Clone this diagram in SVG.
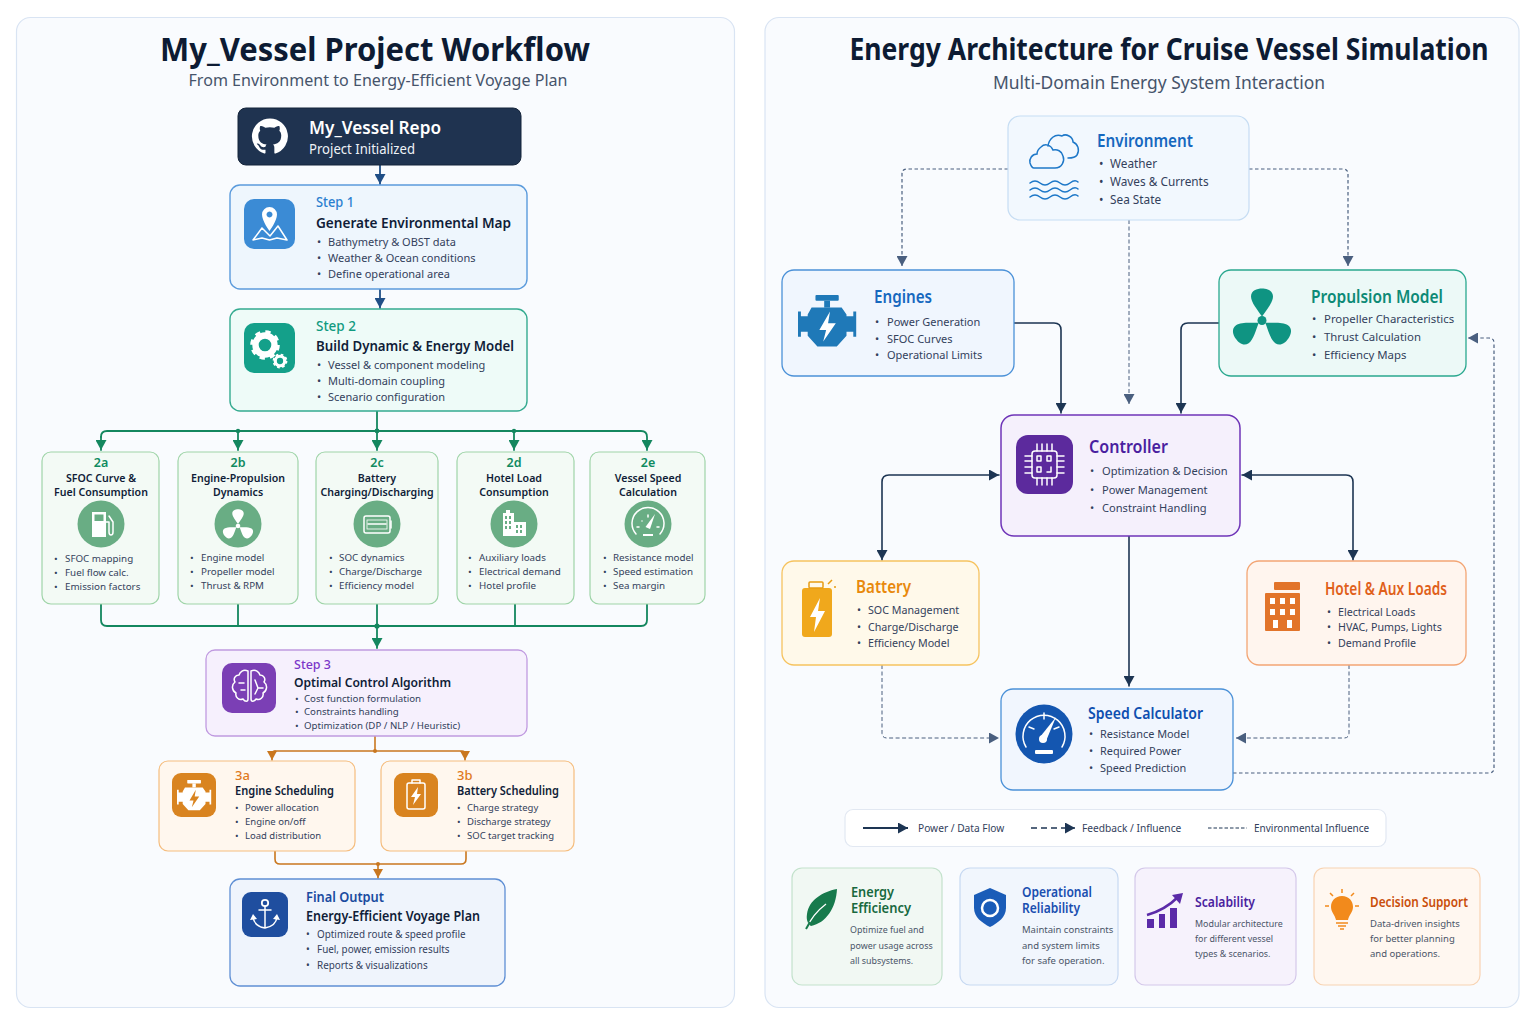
<svg xmlns="http://www.w3.org/2000/svg" xmlns:xlink="http://www.w3.org/1999/xlink" width="1536" height="1024" viewBox="0 0 1536 1024">
<style>
text{font-family:"Noto Sans","Liberation Sans",sans-serif;fill:#33415c}
.panel{fill:#f9fbfe;stroke:#d9e4f3;stroke-width:1.2}
.h1{font-weight:700;fill:#0d1b33}
.sub{fill:#46546b}
.stp{font-size:13.5px;font-weight:500}
.hd{font-size:14.5px;font-weight:600;fill:#101d38}
.li{font-size:11px}
.gc{fill:#f3faf5;stroke:#9fd4a8;stroke-width:1.2}
.gt{font-size:10.6px;font-weight:600;fill:#101d38;text-anchor:middle}
.gn{font-size:12.5px;font-weight:600;fill:#0f8a5f;text-anchor:middle}
.gl{font-size:9.8px}
.gci{fill:#69ad84}
.s3{font-size:9.7px}
.o{fill:#fff7ee;stroke:#f5bd7e;stroke-width:1.2}
.on{font-size:13px;font-weight:500;fill:#e07a1c}
.oh{font-size:12.4px;font-weight:600;fill:#101d38}
.ol{font-size:9.5px}
.fl{font-size:9.9px}
.rt{font-size:17px;font-weight:600}
.c{fill:none;stroke-linecap:round}
.navy{stroke:#1f4e86;stroke-width:1.8}
.grn{stroke:#14875f;stroke-width:1.8}
.org{stroke:#c9771f;stroke-width:1.6}
.dk{stroke:#1d3553;stroke-width:1.6}
.ds{stroke:#4a5f7f;stroke-width:1.2;stroke-dasharray:3.5 2.5;stroke-linecap:butt}
.thin{stroke:#4a5f7f;stroke-width:1;stroke-dasharray:4 2.5;stroke-linecap:butt}
.lg{font-size:10.2px}
.bh{font-size:13.4px;font-weight:600}
.bb{font-size:9.5px;fill:#4a5568}
.bn{font-size:8.9px;fill:#4a5568}
.w{stroke:#fff;fill:none;stroke-width:1.5;stroke-linecap:round;stroke-linejoin:round}
</style>
<defs>
<marker id="mNavy" markerUnits="userSpaceOnUse" markerWidth="11" markerHeight="11" refX="10" refY="5.5" orient="auto"><path d="M0 0L10 5.5L0 11z" fill="#1f4e86"/></marker>
<marker id="mGrn" markerUnits="userSpaceOnUse" markerWidth="11" markerHeight="11" refX="10" refY="5.5" orient="auto"><path d="M0 0L10 5.5L0 11z" fill="#14875f"/></marker>
<marker id="mOrg" markerUnits="userSpaceOnUse" markerWidth="10" markerHeight="10" refX="9" refY="5" orient="auto"><path d="M0 0L9 5L0 10z" fill="#c9771f"/></marker>
<marker id="mDk" markerUnits="userSpaceOnUse" markerWidth="11" markerHeight="11" refX="10" refY="5.5" orient="auto-start-reverse"><path d="M0 0L10 5.5L0 11z" fill="#1d3553"/></marker>
<marker id="mGr" markerUnits="userSpaceOnUse" markerWidth="11" markerHeight="11" refX="10" refY="5.5" orient="auto"><path d="M0 0L10 5.5L0 11z" fill="#4a5f7f"/></marker>
<g id="prop">
<path id="petal" d="M0 -4C-4 -10 -11 -18 -11 -24C-11 -30 -5 -32 0 -32C5 -32 11 -30 11 -24C11 -18 4 -10 0 -4z"/>
<use xlink:href="#petal" href="#petal" transform="rotate(125)"/>
<use xlink:href="#petal" href="#petal" transform="rotate(235)"/>
<circle r="4.5"/>
</g>
<g id="engine">
<rect x="18" y="0" width="24" height="6" rx="1"/><rect x="27" y="6" width="6" height="7"/>
<path d="M14 13H45L50 20V22H57V17H60V43H57V38H50V42L40 53H20L10 42V38H3V43H0V17H3V22H10V20Z"/>
<path d="M33 17L22 36H29L26 48L39 29H31Z" style="fill:var(--bolt)"/>
</g>
<g id="gear">
<circle r="9.5" fill="none" stroke="#fff" stroke-width="6.4"/>
<circle r="13" fill="none" stroke="#fff" stroke-width="3.6" stroke-dasharray="5.2 5"/>
</g>
</defs>

<rect width="1536" height="1024" fill="#fff"/>
<rect class="panel" x="16.5" y="17.5" width="718" height="990" rx="14"/>
<rect class="panel" x="765" y="17.5" width="754" height="990" rx="14"/>

<g id="left-title">
<text class="h1" x="375" y="61" text-anchor="middle" font-size="33" textLength="430" lengthAdjust="spacingAndGlyphs">My_Vessel Project Workflow</text>
<text class="sub" x="378" y="86" text-anchor="middle" font-size="16.6" textLength="379" lengthAdjust="spacingAndGlyphs">From Environment to Energy-Efficient Voyage Plan</text>
</g>

<g id="connectors">
<path class="c navy" d="M380 165V184" marker-end="url(#mNavy)"/>
<path class="c navy" d="M380 289V308" marker-end="url(#mNavy)"/>
<path class="c grn" d="M377 411V450" marker-end="url(#mGrn)"/>
<path class="c grn" d="M101 437Q101 431 107 431H641Q647 431 647 437V450" marker-end="url(#mGrn)"/>
<path class="c grn" d="M101 437V450" marker-end="url(#mGrn)"/>
<path class="c grn" d="M238 431V450" marker-end="url(#mGrn)"/>
<path class="c grn" d="M514 431V450" marker-end="url(#mGrn)"/>
<circle cx="377" cy="431" r="2.4" fill="#14875f"/><circle cx="514" cy="431" r="2.2" fill="#14875f"/><circle cx="238" cy="431" r="2.2" fill="#14875f"/>
<path class="c grn" d="M101 604V620Q101 626 107 626H641Q647 626 647 620V604"/>
<path class="c grn" d="M238 604V626M515 604V626"/>
<path class="c grn" d="M377 604V648" marker-end="url(#mGrn)"/>
<circle cx="377" cy="626" r="2.6" fill="#14875f"/>
<path class="c org" d="M375 736V751"/>
<path class="c org" d="M275 751H462Q465 751 465 754V760" marker-end="url(#mOrg)"/>
<path class="c org" d="M275 751Q272 751 272 754V760" marker-end="url(#mOrg)"/>
<circle cx="375" cy="751" r="2" fill="#c9771f"/>
<path class="c org" d="M275 851V859Q275 864 280 864H461Q466 864 466 859V851"/>
<path class="c org" d="M378 864V878" marker-end="url(#mOrg)"/>
<circle cx="378" cy="864" r="2" fill="#c9771f"/>

<path class="c ds" d="M1008 169H907Q902 169 902 174V266" marker-end="url(#mGr)"/>
<path class="c ds" d="M1249 169H1343Q1348 169 1348 174V266" marker-end="url(#mGr)"/>
<path class="c thin" d="M1129 220V404" marker-end="url(#mGr)"/>
<path class="c dk" d="M1014 323H1054Q1061 323 1061 330V413" marker-end="url(#mDk)"/>
<path class="c dk" d="M1219 323H1188Q1181 323 1181 330V413" marker-end="url(#mDk)"/>
<path class="c dk" d="M999 475H889Q882 475 882 482V560" marker-start="url(#mDk)" marker-end="url(#mDk)"/>
<path class="c dk" d="M1242 475H1346Q1353 475 1353 482V560" marker-start="url(#mDk)" marker-end="url(#mDk)"/>
<path class="c dk" d="M1129 536V686" marker-end="url(#mDk)"/>
<path class="c thin" d="M882 665V733Q882 738 887 738H999" marker-end="url(#mGr)"/>
<path class="c thin" d="M1349 665V733Q1349 738 1344 738H1236" marker-end="url(#mGr)"/>
<path class="c ds" d="M1233 773H1489Q1494 773 1494 768V343Q1494 338 1489 338H1468" marker-end="url(#mGr)"/>
</g>

<g id="repo">
<rect x="238" y="108" width="283" height="57" rx="8" fill="#1f3350" stroke="#15243a"/>
<path transform="translate(252 118) scale(1.5)" fill="#fff" d="M12 .3a12 12 0 0 0-3.8 23.4c.6.1.8-.3.8-.6v-2c-3.3.7-4-1.6-4-1.6-.6-1.4-1.4-1.8-1.4-1.8-1-.7.1-.7.1-.7 1.2.1 1.8 1.2 1.8 1.2 1 1.8 2.8 1.3 3.5 1 0-.8.4-1.3.7-1.6-2.7-.3-5.5-1.3-5.5-6 0-1.2.5-2.3 1.3-3.1-.2-.4-.6-1.6 0-3.2 0 0 1-.3 3.4 1.2a11.5 11.5 0 0 1 6 0c2.3-1.5 3.3-1.2 3.3-1.2.6 1.6.2 2.8 0 3.2.9.8 1.3 1.9 1.3 3.2 0 4.6-2.8 5.6-5.5 5.9.5.4.9 1 .9 2.2v3.3c0 .3.1.7.8.6A12 12 0 0 0 12 .3"/>
<text x="309" y="134" font-size="17.6" font-weight="600" style="fill:#fff" textLength="132" lengthAdjust="spacingAndGlyphs">My_Vessel Repo</text>
<text x="309" y="154" font-size="14" style="fill:#eef2f7" textLength="106" lengthAdjust="spacingAndGlyphs">Project Initialized</text>
</g>

<g id="step1">
<rect x="230" y="185" width="297" height="104" rx="10" fill="#eef6fd" stroke="#5b9bdc" stroke-width="1.4"/>
<rect x="244" y="199" width="51" height="50" rx="10" fill="#3b8bd5"/>
<path fill="#fff" fill-rule="evenodd" d="M269.5 207a7.5 7.5 0 0 1 7.5 7.5C277 221 269.5 231 269.5 231S262 221 262 214.5A7.5 7.5 0 0 1 269.5 207zM269.5 211.5a3 3 0 1 0 .01 0z"/>
<path class="w" d="M262 228L253 240L262 238L269.5 240L277 238L287 240L278 226L270 236L262 228"/>
<text class="stp" x="316" y="207" style="fill:#2a7fd0" textLength="38" lengthAdjust="spacingAndGlyphs">Step 1</text>
<text class="hd" x="316" y="228" textLength="195" lengthAdjust="spacingAndGlyphs">Generate Environmental Map</text>
<text class="li"><tspan x="317" y="246">•</tspan><tspan x="328" y="246">Bathymetry &amp; OBST data</tspan></text>
<text class="li"><tspan x="317" y="262">•</tspan><tspan x="328" y="262">Weather &amp; Ocean conditions</tspan></text>
<text class="li"><tspan x="317" y="278">•</tspan><tspan x="328" y="278">Define operational area</tspan></text>
</g>

<g id="step2">
<rect x="230" y="309" width="297" height="102" rx="10" fill="#eefbf8" stroke="#35ab90" stroke-width="1.4"/>
<rect x="244" y="323" width="51" height="50" rx="10" fill="#14a08a"/>
<use xlink:href="#gear" href="#gear" transform="translate(265 345)"/>
<use xlink:href="#gear" href="#gear" transform="translate(280 361) scale(.5)"/>
<text class="stp" x="316" y="331" style="fill:#109a80" textLength="40" lengthAdjust="spacingAndGlyphs">Step 2</text>
<text class="hd" x="316" y="351" textLength="198" lengthAdjust="spacingAndGlyphs">Build Dynamic &amp; Energy Model</text>
<text class="li"><tspan x="317" y="369">•</tspan><tspan x="328" y="369">Vessel &amp; component modeling</tspan></text>
<text class="li"><tspan x="317" y="385">•</tspan><tspan x="328" y="385">Multi-domain coupling</tspan></text>
<text class="li"><tspan x="317" y="401">•</tspan><tspan x="328" y="401">Scenario configuration</tspan></text>
</g>

<g id="step2a">
<rect class="gc" x="42" y="452" width="117" height="152" rx="9"/>
<text class="gn" x="101" y="467">2a</text>
<text class="gt" x="101" y="482">SFOC Curve &amp;</text>
<text class="gt" x="101" y="496">Fuel Consumption</text>
<circle class="gci" cx="101" cy="524" r="23.5"/>
<path fill="#fff" fill-rule="evenodd" d="M92 512H106V537H92ZM94.5 514.5V521H103.5V514.5Z"/><path class="w" d="M106 522H109V532Q109 535 111 535Q113 535 113 532V522L109 516"/>
<text class="gl"><tspan x="54" y="562">•</tspan><tspan x="65" y="562">SFOC mapping</tspan></text>
<text class="gl"><tspan x="54" y="576">•</tspan><tspan x="65" y="576">Fuel flow calc.</tspan></text>
<text class="gl"><tspan x="54" y="590">•</tspan><tspan x="65" y="590">Emission factors</tspan></text>
</g>
<g id="step2b">
<rect class="gc" x="178" y="452" width="120" height="152" rx="9"/>
<text class="gn" x="238" y="467">2b</text>
<text class="gt" x="238" y="482">Engine-Propulsion</text>
<text class="gt" x="238" y="496">Dynamics</text>
<circle class="gci" cx="238" cy="524" r="23.5"/>
<use xlink:href="#prop" href="#prop" fill="#fff" transform="translate(238 526) scale(.52)"/>
<text class="gl"><tspan x="190" y="561">•</tspan><tspan x="201" y="561">Engine model</tspan></text>
<text class="gl"><tspan x="190" y="575">•</tspan><tspan x="201" y="575">Propeller model</tspan></text>
<text class="gl"><tspan x="190" y="589">•</tspan><tspan x="201" y="589">Thrust &amp; RPM</tspan></text>
</g>
<g id="step2c">
<rect class="gc" x="316" y="452" width="122" height="152" rx="9"/>
<text class="gn" x="377" y="467">2c</text>
<text class="gt" x="377" y="482">Battery</text>
<text class="gt" x="377" y="496">Charging/Discharging</text>
<circle class="gci" cx="377" cy="524" r="23.5"/>
<rect class="w" x="364" y="516" width="26" height="17" rx="2"/><path class="w" d="M391 521V528M368 524H386"/><rect x="367" y="520" width="20" height="9" fill="none" stroke="#fff" stroke-width=".8"/>
<text class="gl"><tspan x="329" y="561">•</tspan><tspan x="339" y="561">SOC dynamics</tspan></text>
<text class="gl"><tspan x="329" y="575">•</tspan><tspan x="339" y="575">Charge/Discharge</tspan></text>
<text class="gl"><tspan x="329" y="589">•</tspan><tspan x="339" y="589">Efficiency model</tspan></text>
</g>
<g id="step2d">
<rect class="gc" x="457" y="452" width="117" height="152" rx="9"/>
<text class="gn" x="514" y="467">2d</text>
<text class="gt" x="514" y="482">Hotel Load</text>
<text class="gt" x="514" y="496">Consumption</text>
<circle class="gci" cx="514" cy="524" r="23.5"/>
<path fill="#fff" d="M503 536V513H506V510H510V513H514V522H526V536Z"/>
<path fill="#69ad84" d="M505 516h2v3h-2zM509 516h2v3h-2zM505 521h2v3h-2zM509 521h2v3h-2zM505 526h2v3h-2zM509 526h2v3h-2zM516 525h2v3h-2zM520 525h2v3h-2zM516 530h2v3h-2zM520 530h2v3h-2z"/>
<text class="gl"><tspan x="468" y="561">•</tspan><tspan x="479" y="561">Auxiliary loads</tspan></text>
<text class="gl"><tspan x="468" y="575">•</tspan><tspan x="479" y="575">Electrical demand</tspan></text>
<text class="gl"><tspan x="468" y="589">•</tspan><tspan x="479" y="589">Hotel profile</tspan></text>
</g>
<g id="step2e">
<rect class="gc" x="590" y="452" width="115" height="152" rx="9"/>
<text class="gn" x="648" y="467">2e</text>
<text class="gt" x="648" y="482">Vessel Speed</text>
<text class="gt" x="648" y="496">Calculation</text>
<circle class="gci" cx="648" cy="524" r="23.5"/>
<path class="w" stroke-width="1.8" d="M636 534A16 16 0 1 1 660 534"/><path class="w" d="M642 521V521.1M637 527H639M657 527H659M648 515V517"/>
<path fill="#fff" d="M645.5 527L655 514L650 529Z"/><rect x="643" y="534" width="10" height="2" fill="#fff"/>
<text class="gl"><tspan x="603" y="561">•</tspan><tspan x="613" y="561">Resistance model</tspan></text>
<text class="gl"><tspan x="603" y="575">•</tspan><tspan x="613" y="575">Speed estimation</tspan></text>
<text class="gl"><tspan x="603" y="589">•</tspan><tspan x="613" y="589">Sea margin</tspan></text>
</g>

<g id="step3">
<rect x="206" y="650" width="321" height="86" rx="9" fill="#f6f0fd" stroke="#c09ae0" stroke-width="1.3"/>
<rect x="222" y="663" width="54" height="50" rx="10" fill="#7b3fb5"/>
<path class="w" stroke-width="1.3" d="M248 671C243 669 240 672 239 675C235 675 233 679 235 682C231 685 232 691 236 693C235 697 239 701 243 699C245 702 248 702 248 699ZM251 671C256 669 259 672 260 675C264 675 266 679 264 682C268 685 267 691 263 693C264 697 260 701 256 699C254 702 251 702 251 699Z"/>
<path class="w" stroke-width="1" d="M239 683H244M241 690H245M255 680L258 688L255 694M258 688H263"/>
<text class="stp" x="294" y="669" style="fill:#7b36c9;font-size:12.5px">Step 3</text>
<text class="hd" x="294" y="687" style="font-size:13px" textLength="157" lengthAdjust="spacingAndGlyphs">Optimal Control Algorithm</text>
<text class="s3"><tspan x="295" y="702">•</tspan><tspan x="304" y="702">Cost function formulation</tspan></text>
<text class="s3"><tspan x="295" y="715">•</tspan><tspan x="304" y="715">Constraints handling</tspan></text>
<text class="s3"><tspan x="295" y="729">•</tspan><tspan x="304" y="729">Optimization (DP / NLP / Heuristic)</tspan></text>
</g>

<g id="step3a">
<rect class="o" x="159" y="761" width="196" height="90" rx="9"/>
<rect x="172" y="773" width="44" height="44" rx="9" fill="#d98420"/>
<use xlink:href="#engine" href="#engine" fill="#fff" style="--bolt:#d98420" transform="translate(177 780) scale(.57)"/>
<text class="on" x="235" y="780">3a</text>
<text class="oh" x="235" y="795" textLength="99" lengthAdjust="spacingAndGlyphs">Engine Scheduling</text>
<text class="ol"><tspan x="235" y="811">•</tspan><tspan x="245" y="811">Power allocation</tspan></text>
<text class="ol"><tspan x="235" y="825">•</tspan><tspan x="245" y="825">Engine on/off</tspan></text>
<text class="ol"><tspan x="235" y="839">•</tspan><tspan x="245" y="839">Load distribution</tspan></text>
</g>
<g id="step3b">
<rect class="o" x="381" y="761" width="193" height="90" rx="9"/>
<rect x="394" y="773" width="44" height="44" rx="9" fill="#d98420"/>
<rect class="w" x="407" y="783" width="18" height="26" rx="2"/><path class="w" d="M412 783V780H420V783"/><path fill="#fff" d="M418 787L411 797H415L413 805L421 794H417Z"/>
<text class="on" x="457" y="780">3b</text>
<text class="oh" x="457" y="795" textLength="102" lengthAdjust="spacingAndGlyphs">Battery Scheduling</text>
<text class="ol"><tspan x="457" y="811">•</tspan><tspan x="467" y="811">Charge strategy</tspan></text>
<text class="ol"><tspan x="457" y="825">•</tspan><tspan x="467" y="825">Discharge strategy</tspan></text>
<text class="ol"><tspan x="457" y="839">•</tspan><tspan x="467" y="839">SOC target tracking</tspan></text>
</g>

<g id="final">
<rect x="230" y="879" width="275" height="107" rx="10" fill="#eff4fc" stroke="#5f8fd4" stroke-width="1.3"/>
<rect x="242" y="892" width="46" height="45" rx="9" fill="#1f4e9f"/>
<circle cx="265" cy="903" r="3.2" fill="none" stroke="#fff" stroke-width="1.8"/>
<path class="w" stroke-width="2" d="M265 906V928M259 910H271M253 917Q254 926 265 928Q276 926 277 917"/><path fill="#fff" d="M250 920L253 914L257 919ZM280 920L277 914L273 919Z"/>
<text x="306" y="902" font-size="14" font-weight="600" style="fill:#1a4ba0" textLength="78" lengthAdjust="spacingAndGlyphs">Final Output</text>
<text class="hd" x="306" y="921" style="font-size:13.8px" textLength="174" lengthAdjust="spacingAndGlyphs">Energy-Efficient Voyage Plan</text>
<text class="fl"><tspan x="306" y="938">•</tspan><tspan x="317" y="938">Optimized route &amp; speed profile</tspan></text>
<text class="fl"><tspan x="306" y="953">•</tspan><tspan x="317" y="953">Fuel, power, emission results</tspan></text>
<text class="fl"><tspan x="306" y="969">•</tspan><tspan x="317" y="969">Reports &amp; visualizations</tspan></text>
</g>

<g id="right-title">
<text class="h1" transform="translate(1169 60) scale(.885 1)" text-anchor="middle" font-size="30">Energy Architecture for Cruise Vessel Simulation</text>
<text class="sub" x="1159" y="89" text-anchor="middle" font-size="17.8" textLength="332" lengthAdjust="spacingAndGlyphs">Multi-Domain Energy System Interaction</text>
</g>

<g id="environment">
<rect x="1008" y="116" width="241" height="104" rx="12" fill="#f2f8fe" stroke="#c6ddf3" stroke-width="1.2"/>
<g fill="none" stroke="#1e78c8" stroke-width="1.5" stroke-linecap="round">
<path d="M1034 168H1055C1062 168 1065 161 1063 156C1062 151 1057 149 1053 150C1051 145 1045 143 1041 147C1037 150 1037 153 1037 154C1032 154 1029 159 1030 163C1031 166 1033 168 1034 168Z"/>
<path d="M1048 146C1049 139 1055 133 1062 136C1066 133 1073 137 1073 142C1078 144 1080 150 1077 155C1075 158 1071 158 1068 158"/>
<path d="M1030 183Q1035 179 1040 183T1050 183T1060 183T1070 183T1078 182M1030 190Q1035 186 1040 190T1050 190T1060 190T1070 190T1078 189M1030 197Q1035 193 1040 197T1050 197T1060 197T1070 197T1078 196"/>
</g>
<text class="rt" x="1097" y="147" style="fill:#1668bf" textLength="96" lengthAdjust="spacingAndGlyphs">Environment</text>
<g font-size="11.8"><text><tspan x="1099" y="168">•</tspan><tspan x="1110" y="168">Weather</tspan></text>
<text><tspan x="1099" y="186">•</tspan><tspan x="1110" y="186">Waves &amp; Currents</tspan></text>
<text><tspan x="1099" y="204">•</tspan><tspan x="1110" y="204">Sea State</tspan></text></g>
</g>
<g id="engines">
<rect x="782" y="270" width="232" height="106" rx="12" fill="#f0f6fe" stroke="#4b91d8" stroke-width="1.3"/>
<use xlink:href="#engine" href="#engine" fill="#1f79b8" style="--bolt:#fff" transform="translate(798 295) scale(.97)"/>
<text class="rt" x="874" y="303" style="fill:#1668bf" textLength="58" lengthAdjust="spacingAndGlyphs">Engines</text>
<g font-size="11"><text><tspan x="875" y="326">•</tspan><tspan x="887" y="326">Power Generation</tspan></text>
<text><tspan x="875" y="343">•</tspan><tspan x="887" y="343">SFOC Curves</tspan></text>
<text><tspan x="875" y="359">•</tspan><tspan x="887" y="359">Operational Limits</tspan></text></g>
</g>
<g id="propulsion">
<rect x="1219" y="270" width="247" height="106" rx="12" fill="#ecf9f7" stroke="#2aa88f" stroke-width="1.3"/>
<use xlink:href="#prop" href="#prop" fill="#0f9482" transform="translate(1262 320.5)"/>
<text class="rt" x="1311" y="303" style="fill:#0d8a76" textLength="132" lengthAdjust="spacingAndGlyphs">Propulsion Model</text>
<g font-size="11.4"><text><tspan x="1312" y="323">•</tspan><tspan x="1324" y="323">Propeller Characteristics</tspan></text>
<text><tspan x="1312" y="341">•</tspan><tspan x="1324" y="341">Thrust Calculation</tspan></text>
<text><tspan x="1312" y="359">•</tspan><tspan x="1324" y="359">Efficiency Maps</tspan></text></g>
</g>
<g id="controller">
<rect x="1001" y="415" width="239" height="121" rx="13" fill="#f5f0fc" stroke="#6f35b8" stroke-width="1.5"/>
<rect x="1016" y="435" width="57" height="59" rx="12" fill="#5c2a9d"/>
<rect class="w" x="1032" y="451" width="25" height="27" rx="3"/>
<path class="w" d="M1037 444V451M1042 444V451M1047 444V451M1052 444V451M1037 478V485M1042 478V485M1047 478V485M1052 478V485M1025 456H1032M1025 461H1032M1025 467H1032M1025 473H1032M1057 456H1064M1057 461H1064M1057 467H1064M1057 473H1064"/>
<path class="w" d="M1037 456h4v5h-4zM1047 456h4v5h-4zM1037 467h4v5h-4zM1051 467v5h-4"/>
<text class="rt" x="1089" y="453" style="font-size:18px;fill:#4a1fa0" textLength="79" lengthAdjust="spacingAndGlyphs">Controller</text>
<g font-size="11.1"><text><tspan x="1090" y="475">•</tspan><tspan x="1102" y="475">Optimization &amp; Decision</tspan></text>
<text><tspan x="1090" y="494">•</tspan><tspan x="1102" y="494">Power Management</tspan></text>
<text><tspan x="1090" y="512">•</tspan><tspan x="1102" y="512">Constraint Handling</tspan></text></g>
</g>
<g id="battery">
<rect x="782" y="561" width="197" height="104" rx="12" fill="#fff9ea" stroke="#f6c35f" stroke-width="1.3"/>
<rect x="802" y="588" width="30" height="49" rx="3" fill="#f0a81c"/><rect x="809" y="582" width="14" height="6" rx="1" fill="none" stroke="#e89c12" stroke-width="1.5"/>
<path fill="#fff" d="M820 598L810 617H816L814 632L825 611H818Z"/>
<path d="M828 584L832 580M834 587H836" stroke="#e89c12" stroke-width="1.5" fill="none"/>
<text class="rt" x="856" y="593" style="fill:#e8890c" textLength="55" lengthAdjust="spacingAndGlyphs">Battery</text>
<g font-size="10.7"><text><tspan x="857" y="614">•</tspan><tspan x="868" y="614">SOC Management</tspan></text>
<text><tspan x="857" y="631">•</tspan><tspan x="868" y="631">Charge/Discharge</tspan></text>
<text><tspan x="857" y="647">•</tspan><tspan x="868" y="647">Efficiency Model</tspan></text></g>
</g>
<g id="hotel">
<rect x="1247" y="561" width="219" height="104" rx="12" fill="#fff5ee" stroke="#f3a574" stroke-width="1.3"/>
<rect x="1274" y="582" width="26" height="8" rx="1" fill="#e2742a"/><rect x="1265" y="593" width="35" height="38" rx="1" fill="#e2742a"/>
<path fill="#fff" d="M1270 598h5v6h-5zM1280 598h5v6h-5zM1290 598h5v6h-5zM1270 609h5v6h-5zM1280 609h5v6h-5zM1290 609h5v6h-5zM1273 620h5v8h-5zM1287 620h5v8h-5z"/>
<text class="rt" x="1325" y="595" style="fill:#e0601a" textLength="122" lengthAdjust="spacingAndGlyphs">Hotel &amp; Aux Loads</text>
<g font-size="10.7"><text><tspan x="1327" y="616">•</tspan><tspan x="1338" y="616">Electrical Loads</tspan></text>
<text><tspan x="1327" y="631">•</tspan><tspan x="1338" y="631">HVAC, Pumps, Lights</tspan></text>
<text><tspan x="1327" y="647">•</tspan><tspan x="1338" y="647">Demand Profile</tspan></text></g>
</g>
<g id="speed">
<rect x="1001" y="689" width="232" height="101" rx="12" fill="#f1f6fe" stroke="#4b91d8" stroke-width="1.3"/>
<ellipse cx="1044" cy="734" rx="28.5" ry="29.5" fill="#1456b0"/>
<path class="w" stroke-width="2.5" d="M1026 747A21 21 0 1 1 1062 747"/><path class="w" stroke-width="2" d="M1044 713V719M1029 727L1034 729M1059 727L1054 729"/>
<circle cx="1043" cy="739" r="4" fill="#fff"/><path fill="#fff" d="M1040 737L1056 717L1046 741Z"/><rect x="1035" y="750" width="18" height="4" rx="1" fill="#fff"/>
<text class="rt" x="1088" y="719" style="font-size:15.5px;fill:#0e4fb0" textLength="115" lengthAdjust="spacingAndGlyphs">Speed Calculator</text>
<g font-size="10.9"><text><tspan x="1089" y="738">•</tspan><tspan x="1100" y="738">Resistance Model</tspan></text>
<text><tspan x="1089" y="755">•</tspan><tspan x="1100" y="755">Required Power</tspan></text>
<text><tspan x="1089" y="772">•</tspan><tspan x="1100" y="772">Speed Prediction</tspan></text></g>
</g>

<g id="legend">
<rect x="845" y="809.5" width="541" height="37" rx="8" fill="#fff" stroke="#e2e8f2" stroke-width="1.2"/>
<path d="M863 828H908" stroke="#1d3553" stroke-width="1.8" fill="none" marker-end="url(#mDk)"/>
<text class="lg" x="918" y="832">Power / Data Flow</text>
<path d="M1031 828H1075" stroke="#1d3553" stroke-width="1.5" stroke-dasharray="6 4" fill="none" marker-end="url(#mDk)"/>
<text class="lg" x="1082" y="832">Feedback / Influence</text>
<path d="M1208 828H1247" stroke="#1d3553" stroke-width="1" stroke-dasharray="3.5 2" fill="none"/>
<text class="lg" x="1254" y="832" style="font-size:10px">Environmental Influence</text>
</g>

<g id="card-energy">
<rect x="792" y="868" width="150" height="117" rx="10" fill="#f1f8f3" stroke="#c3e2cc" stroke-width="1.2"/>
<path fill="#177a4c" d="M837 889C822 892 809 900 807 914C806 920 808 924 811 926C826 923 836 908 837 889Z"/><path d="M806 929C811 918 818 910 826 904" stroke="#fff" stroke-width="1.3" fill="none"/><path d="M806 929L810 922" stroke="#177a4c" stroke-width="2" fill="none"/>
<text class="bh" x="851" y="897" style="fill:#17693e" textLength="43" lengthAdjust="spacingAndGlyphs">Energy</text>
<text class="bh" x="851" y="913" style="fill:#17693e" textLength="60" lengthAdjust="spacingAndGlyphs">Efficiency</text>
<text class="bn" x="850" y="933">Optimize fuel and</text>
<text class="bn" x="850" y="949">power usage across</text>
<text class="bn" x="850" y="964">all subsystems.</text>
</g>
<g id="card-reliability">
<rect x="960" y="868" width="158" height="117" rx="10" fill="#f1f6fd" stroke="#c7d9f2" stroke-width="1.2"/>
<path fill="#1a5cb8" d="M990 888L1006 895V908C1006 917 998 923 990 927C982 923 974 917 974 908V895Z"/>
<circle cx="990" cy="908" r="8" fill="none" stroke="#fff" stroke-width="2.5"/><circle cx="990" cy="908" r="4" fill="#1a5cb8"/>
<text class="bh" x="1022" y="897" style="fill:#1a4fb0" textLength="70" lengthAdjust="spacingAndGlyphs">Operational</text>
<text class="bh" x="1022" y="913" style="fill:#1a4fb0" textLength="58" lengthAdjust="spacingAndGlyphs">Reliability</text>
<text class="bb" x="1022" y="933">Maintain constraints</text>
<text class="bb" x="1022" y="949">and system limits</text>
<text class="bb" x="1022" y="964">for safe operation.</text>
</g>
<g id="card-scalability">
<rect x="1135" y="868" width="161" height="117" rx="10" fill="#f6f2fc" stroke="#d4c8ea" stroke-width="1.2"/>
<path fill="#5b2ba8" d="M1147 919h7v9h-7zM1159 914h6v14h-6zM1170 908h7v20h-7z"/>
<path d="M1147 915Q1165 910 1178 897" stroke="#5b2ba8" stroke-width="2.5" fill="none"/><path fill="#5b2ba8" d="M1183 893L1172 895L1180 904Z"/>
<text class="bh" x="1195" y="907" style="fill:#4a1f9f" textLength="60" lengthAdjust="spacingAndGlyphs">Scalability</text>
<text class="bn" x="1195" y="927">Modular architecture</text>
<text class="bn" x="1195" y="942">for different vessel</text>
<text class="bn" x="1195" y="957">types &amp; scenarios.</text>
</g>
<g id="card-decision">
<rect x="1314" y="868" width="166" height="117" rx="10" fill="#fff7f0" stroke="#f8d3b2" stroke-width="1.2"/>
<path fill="#f28a1c" d="M1342 896C1349 896 1353 901 1353 907C1353 912 1349 915 1348 920H1336C1335 915 1331 912 1331 907C1331 901 1335 896 1342 896Z"/>
<path stroke="#f28a1c" stroke-width="1.5" fill="none" d="M1336 923H1348M1338 926H1346M1340 929H1344M1342 889V893M1330 893L1333 896M1354 893L1351 896M1325 906H1329M1355 906H1359"/>
<text class="bh" x="1370" y="907" style="fill:#c94e0a" textLength="98" lengthAdjust="spacingAndGlyphs">Decision Support</text>
<text class="bb" x="1370" y="927">Data-driven insights</text>
<text class="bb" x="1370" y="942">for better planning</text>
<text class="bb" x="1370" y="957">and operations.</text>
</g>
</svg>
